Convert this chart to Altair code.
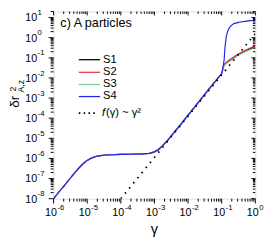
import altair as alt
import pandas as pd

# ---------------- data ----------------
gamma_common = [1e-6, 1.5e-6, 2e-6, 3e-6, 4e-6, 5e-6, 6e-6, 7e-6, 8e-6, 1e-5,
                1.3e-5, 1.7e-5, 2.2e-5, 3e-5, 5e-5, 1e-4, 2e-4, 4e-4, 7e-4, 1e-3,
                1.3e-3, 1.7e-3, 2.2e-3, 3e-3, 4e-3, 6e-3, 1e-2, 2e-2, 4e-2, 7e-2, 1e-1]
value_common = [1.0e-8, 2.34e-8, 4.13e-8, 9.5e-8, 1.71e-7, 2.65e-7, 3.7e-7, 4.85e-7, 5.98e-7, 8.0e-7,
                1.01e-6, 1.21e-6, 1.33e-6, 1.44e-6, 1.53e-6, 1.59e-6, 1.62e-6, 1.67e-6, 1.79e-6, 2.12e-6,
                2.77e-6, 4.07e-6, 6.35e-6, 1.17e-5, 2.12e-5, 4.84e-5, 1.40e-4, 5.96e-4, 2.55e-3, 7.93e-3, 1.66e-2]
s2_common = [2.45e-6 if g == 1.3e-3 else v for g, v in zip(gamma_common, value_common)]

gamma_tail_s4 = [0.106, 0.118, 0.125, 0.137, 0.15, 0.165, 0.19, 0.23, 0.3, 0.36, 0.5, 0.7, 0.88, 1.0]
value_tail_s4 = [0.025, 0.074, 0.32, 1.15, 2.0, 2.9, 4.0, 5.0, 5.6, 6.0, 6.5, 7.0, 7.3, 7.6]

gamma_tail = [0.106, 0.113, 0.12, 0.15, 0.2, 0.3, 0.5, 0.7, 1.0]
value_tail_s1 = [0.0233, 0.0353, 0.0445, 0.0627, 0.0874, 0.137, 0.216, 0.279, 0.359]
value_tail_s2 = [0.0250, 0.0385, 0.0485, 0.0685, 0.0955, 0.150, 0.236, 0.305, 0.392]
value_tail_s3 = [0.0215, 0.0322, 0.0405, 0.0570, 0.0795, 0.125, 0.197, 0.254, 0.327]

series_names = ["S1", "S2", "S3", "S4"]
series_colors = ["#000000", "#e5344f", "#7fcf9c", "#2323ee"]

ref_gamma = [1e-4, 1.0]          # f(γ) ~ γ² guide line end points
ref_value = [1e-8, 1.6]

x_decades = [1e-6, 1e-5, 1e-4, 1e-3, 1e-2, 1e-1, 1.0]
x_exps = ["-6", "-5", "-4", "-3", "-2", "-1", "0"]
y_decades = [1e-8, 1e-7, 1e-6, 1e-5, 1e-4, 1e-3, 1e-2, 1e-1, 1.0, 10.0]
y_exps = ["-8", "-7", "-6", "-5", "-4", "-3", "-2", "-1", "0", "1"]
x_minor = [m * d for d in x_decades[:-1] for m in range(2, 10)]
y_minor = [m * d for d in y_decades for m in range(2, 10) if m * d <= 20]

# ---------------- frames ----------------
rows = []
tails = {"S1": (gamma_tail, value_tail_s1), "S2": (gamma_tail, value_tail_s2),
         "S3": (gamma_tail, value_tail_s3), "S4": (gamma_tail_s4, value_tail_s4)}
for i, name in enumerate(series_names):
    base = s2_common if name == "S2" else value_common
    gs = gamma_common + tails[name][0]
    vs = base + tails[name][1]
    for k, (g, v) in enumerate(zip(gs, vs)):
        rows.append({"series": name, "order": i, "k": k, "gamma": g, "val": v})
df = pd.DataFrame(rows)
ref_df = pd.DataFrame({"gamma": ref_gamma, "val": ref_value})
xdec_df = pd.DataFrame({"gamma": x_decades, "exp": x_exps})
ydec_df = pd.DataFrame({"val": y_decades, "exp": y_exps})
xmin_df = pd.DataFrame({"gamma": x_minor})
ymin_df = pd.DataFrame({"val": y_minor})

W, H = 208, 193
FONT = "Liberation Sans"

xs = alt.Scale(type="log", domain=[1e-6, 1], nice=False)
ys = alt.Scale(type="log", domain=[1e-8, 20], nice=False)
X = alt.X("gamma:Q", scale=xs, axis=None)
Y = alt.Y("val:Q", scale=ys, axis=None)

layers = []
for i, name in enumerate(series_names):
    layers.append(
        alt.Chart(df[df.series == name]).mark_line(
            color=series_colors[i], strokeWidth=1.2, clip=True
        ).encode(x=X, y=Y, order="k:Q")
    )
layers.append(
    alt.Chart(ref_df).mark_line(color="black", strokeWidth=1.8, strokeDash=[1.6, 5.2], clip=True)
    .encode(x=X, y=Y)
)

def xt(data, y0, y1):
    return alt.Chart(data).mark_rule(color="black", strokeWidth=1).encode(
        x=X, y=alt.value(y0), y2=alt.value(y1))

def yt(data, x0, x1):
    return alt.Chart(data).mark_rule(color="black", strokeWidth=1).encode(
        y=Y, x=alt.value(x0), x2=alt.value(x1))

layers += [
    xt(xdec_df, H, H + 5), xt(xmin_df, H, H + 3),
    xt(xdec_df, 0, 4), xt(xmin_df, 0, 2.5),
    yt(ydec_df, 0, -5), yt(ymin_df, 0, -3),
    yt(ydec_df, W, W - 4), yt(ymin_df, W, W - 2.5),
]

layers += [
    alt.Chart(xdec_df).mark_text(text="10", font=FONT, fontSize=11, align="right",
                                 baseline="middle", dx=3.5).encode(x=X, y=alt.value(208)),
    alt.Chart(xdec_df).mark_text(font=FONT, fontSize=8, align="left",
                                 baseline="middle", dx=4).encode(x=X, y=alt.value(202.5), text="exp:N"),
    alt.Chart(ydec_df).mark_text(text="10", font=FONT, fontSize=11, align="right",
                                 baseline="middle", dy=1).encode(y=Y, x=alt.value(-17)),
    alt.Chart(ydec_df).mark_text(font=FONT, fontSize=8, align="left",
                                 baseline="middle", dy=-4.5).encode(y=Y, x=alt.value(-16.5), text="exp:N"),
]

def txt(s, x, y, size, **kw):
    return alt.Chart(pd.DataFrame({"t": [s]})).mark_text(
        font=FONT, fontSize=size, **kw).encode(text="t:N", x=alt.value(x), y=alt.value(y))

layers += [
    txt("γ", 104, 224, 15, align="center", baseline="middle"),
    txt("δr", -39.5, 93, 14, align="center", baseline="middle", angle=270),
    txt("2", -42, 80, 9, align="center", baseline="middle", angle=270),
    txt("A,z", -33.5, 77, 9, align="center", baseline="middle", angle=270),
    txt("c) A particles", 7, 12, 13, align="left", baseline="middle"),
]

leg_y = [49.7, 62.7, 75.3, 87.7]
for i, name in enumerate(series_names):
    layers.append(alt.Chart(pd.DataFrame({"t": [name]})).mark_rule(
        color=series_colors[i], strokeWidth=1.3).encode(
        x=alt.value(26), x2=alt.value(48), y=alt.value(leg_y[i])))
    layers.append(txt(name, 51, leg_y[i], 11.5, align="left", baseline="middle"))
layers.append(alt.Chart(pd.DataFrame({"t": ["f"]})).mark_rule(
    color="black", strokeWidth=1.8, strokeDash=[1.6, 3.4]).encode(
    x=alt.value(26), x2=alt.value(44), y=alt.value(104.7)))
layers.append(txt("f", 50, 104.7, 11.5, align="left", baseline="middle", fontStyle="italic"))
layers.append(txt("(γ) ~ γ²", 54, 104.7, 11.5, align="left", baseline="middle"))

chart = alt.layer(*layers).properties(
    width=W, height=H,
    autosize=alt.AutoSizeParams(type="none"),
    padding={"left": 47, "top": 0, "right": 10, "bottom": 39},
).configure_view(stroke="black", strokeWidth=1).configure(background="white")

chart.save("out.html", embed_options={"renderer": "svg", "actions": False})
